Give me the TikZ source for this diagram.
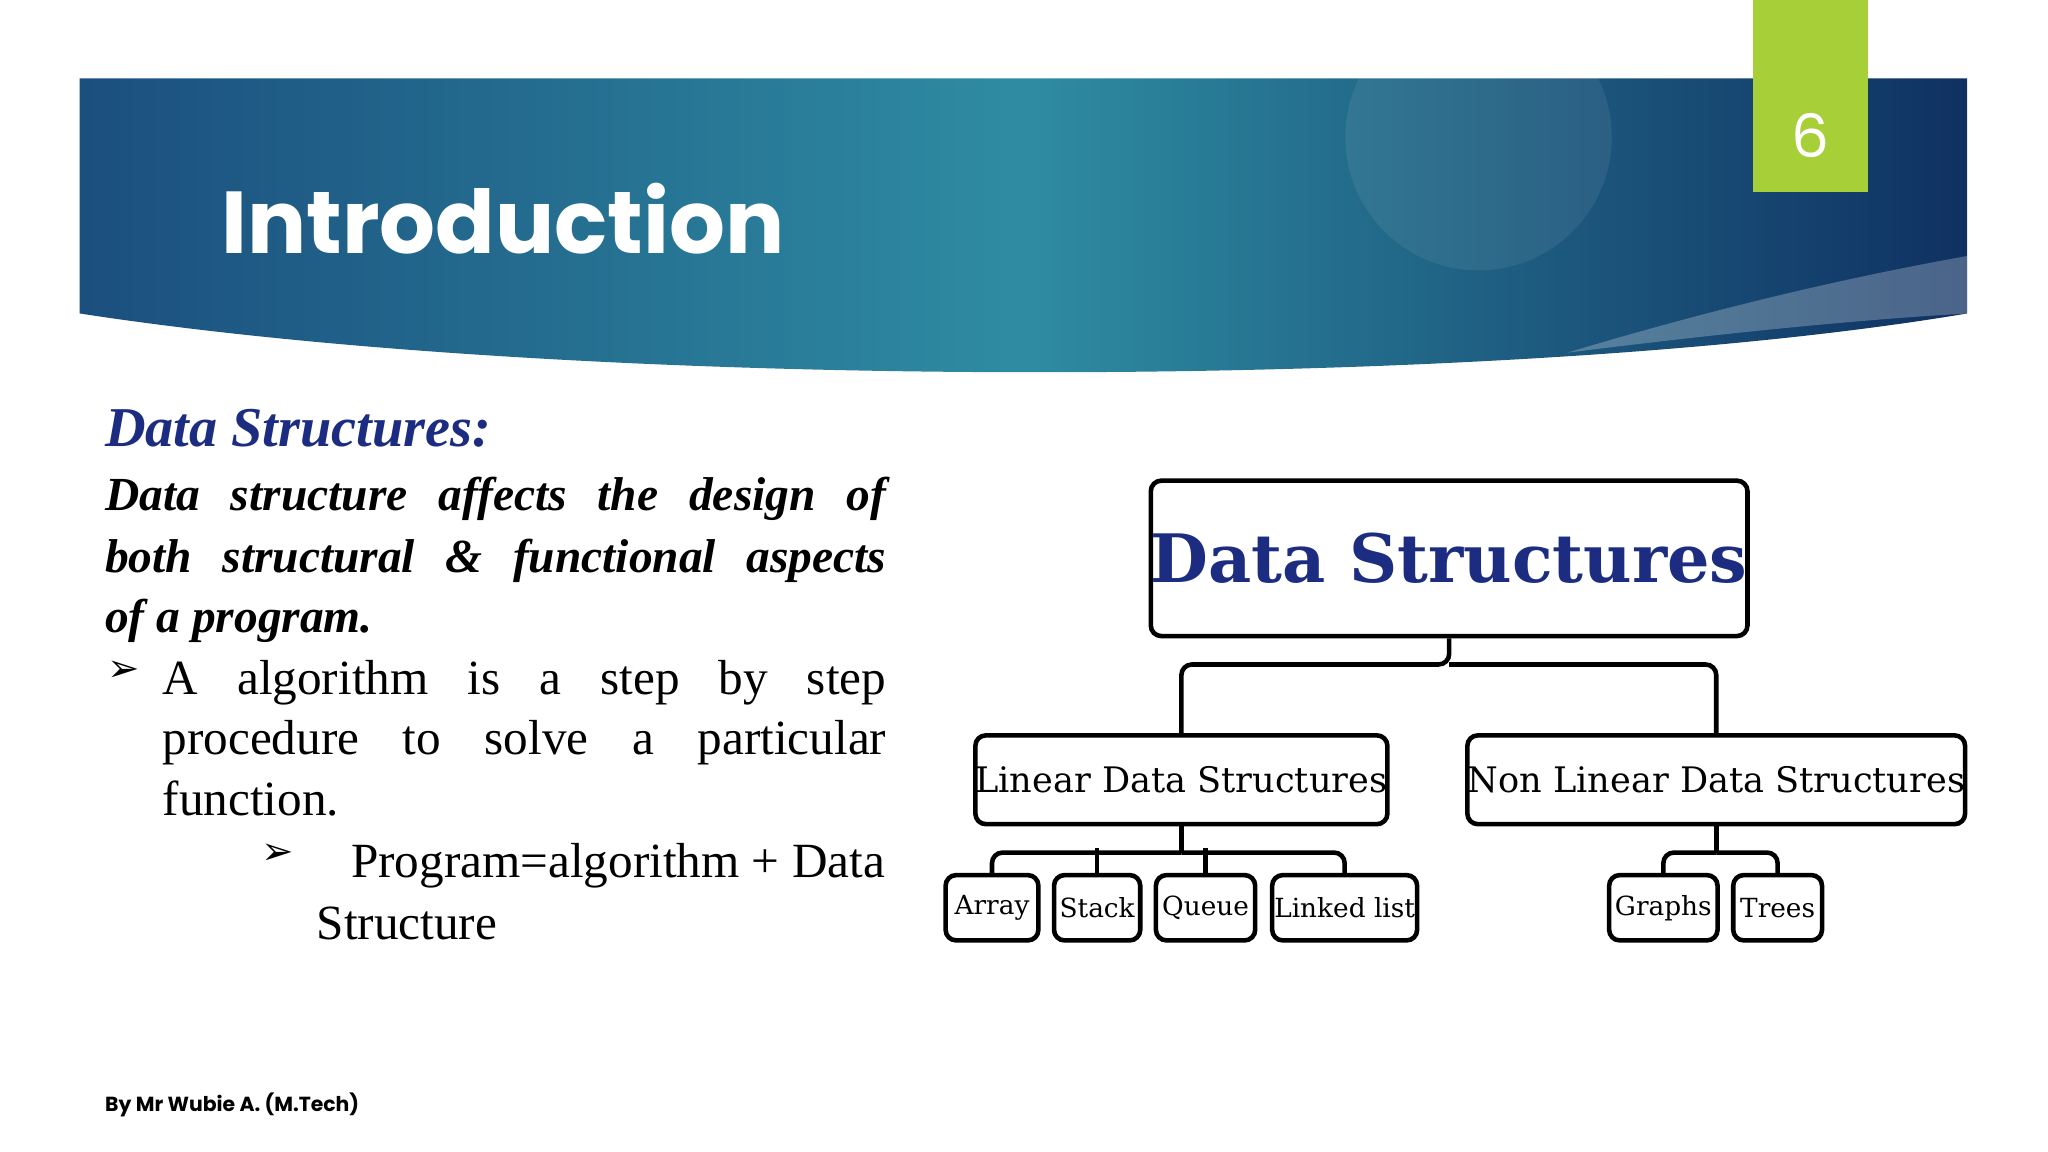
\documentclass[tikz,border=0pt]{standalone}
\usepackage{fontspec}
\setmainfont{Liberation Serif}
\newfontfamily\titlefont{Poppins}
\newfontfamily\dsfont{DejaVu Serif}
\usetikzlibrary{shadings}
\newlength\uu \setlength\uu{0.01306cm}
\definecolor{hdark}{HTML}{1B4F7E}
\definecolor{hmid}{HTML}{2E8CA2}
\definecolor{hright}{HTML}{0F3162}
\definecolor{lime}{HTML}{A6CF38}
\definecolor{dsblue}{HTML}{1C2C80}
\begin{document}
\begin{tikzpicture}[x=0.01306cm,y=-0.01306cm,
  box/.style={draw=black,line width=1.3pt,rounded corners=3pt,fill=white,inner sep=0pt},
  leaf/.style={box,minimum height={50*0.01306cm},font=\dsfont\fontsize{7.5}{9}\selectfont},
  mid/.style={box,minimum height={68*0.01306cm},font=\dsfont\fontsize{10}{12}\selectfont},
  con/.style={draw=black,line width=1.3pt}]
\useasboundingbox (0,0) rectangle (1568,882);
\fill[white] (0,0) rectangle (1568,882);
% header
\shade[left color=hdark,right color=hright,middle color=hmid]
  (61,60) -- (1506,60) -- (1506,240) .. controls (1150,300) and (450,300) .. (61,240) -- cycle;
\fill[white,opacity=0.07] (1132,105) circle (102);
\fill[white,opacity=0.25] (1506,196) .. controls (1400,215) and (1300,240) .. (1200,270) .. controls (1320,255) and (1420,245) .. (1506,240) -- cycle;
\node[anchor=base west,text=white,font=\titlefont\bfseries\fontsize{25}{30}\selectfont] (title) at (160,194) {Introduction};
\fill[lime] (1342,0) rectangle (1430,147);
\node[text=white,font=\titlefont\fontsize{17}{20}\selectfont] (pg) at (1386,104) {6};
% text
\node[anchor=base west,inner sep=0,text=dsblue,font=\bfseries\itshape\fontsize{16}{19}\selectfont] (h) at (80,342) {Data Structures:};
\node[anchor=base west,inner sep=0,font=\bfseries\itshape\fontsize{13.5}{16}\selectfont] (p1) at (80,391) {\makebox[598\uu][s]{Data structure affects the design of}};
\node[anchor=base west,inner sep=0,font=\bfseries\itshape\fontsize{13.5}{16}\selectfont] (p2) at (80,438) {\makebox[598\uu][s]{both structural \& functional aspects}};
\node[anchor=base west,inner sep=0,font=\bfseries\itshape\fontsize{13.5}{16}\selectfont] (p3) at (80,484) {of a program.};
\node[anchor=base west,inner sep=0,font=\fontsize{14}{16}\selectfont] (b1) at (82,522) {\fontspec{DejaVu Sans}\fontsize{11}{13}\selectfont ➢};
\node[anchor=base west,inner sep=0,font=\fontsize{14}{16}\selectfont] (l1) at (124,532) {\makebox[554\uu][s]{A algorithm is a step by step}};
\node[anchor=base west,inner sep=0,font=\fontsize{14}{16}\selectfont] (l2) at (124,578) {\makebox[554\uu][s]{procedure to solve a particular}};
\node[anchor=base west,inner sep=0,font=\fontsize{14}{16}\selectfont] (l3) at (124,624) {function.};
\node[anchor=base west,inner sep=0] (b2) at (200,662) {\fontspec{DejaVu Sans}\fontsize{11}{13}\selectfont ➢};
\node[anchor=base east,inner sep=0,font=\fontsize{14}{16}\selectfont] (l4) at (678,672) {Program=algorithm + Data};
\node[anchor=base west,inner sep=0,font=\fontsize{14}{16}\selectfont] (l5) at (242,719) {Structure};
\node[anchor=base west,inner sep=0,font=\titlefont\bfseries\fontsize{5.8}{7}\selectfont] (ft) at (80,851) {By Mr Wubie A. (M.Tech)};
% diagram
\node[box,minimum width={455*0.01306cm},minimum height={119*0.01306cm},text=dsblue,font=\dsfont\bfseries\fontsize{19}{22}\selectfont] (ds) at (1109.5,427.5) {Data Structures};
\node[mid,minimum width={305*0.01306cm}] (lin) at (904.5,597) {Linear Data Structures};
\node[mid,minimum width={358*0.01306cm}] (nlin) at (1314,597) {Non Linear Data Structures};
\node[leaf,minimum width={71*0.01306cm}] (arr) at (759.5,695) {Array};
\node[leaf,minimum width={66*0.01306cm}] (stk) at (840,695) {Stack};
\node[leaf,minimum width={76*0.01306cm}] (que) at (923,695) {Queue};
\node[leaf,minimum width={111*0.01306cm}] (ll) at (1029.5,695) {Linked list};
\node[leaf,minimum width={83*0.01306cm}] (gr) at (1273.5,695) {Graphs};
\node[leaf,minimum width={68*0.01306cm}] (tr) at (1361,695) {Trees};
\draw[con,rounded corners=3pt] (ds.south) -- ++(0,20) -| (lin.north);
\draw[con,rounded corners=3pt] (ds.south) ++(0,20) -| (nlin.north);
\draw[con] (lin.south) -- ++(0,20);
\draw[con,rounded corners=3pt] (lin.south) ++(0,20) -| (arr.north);
\draw[con,rounded corners=3pt] (lin.south) ++(0,20) -| (ll.north);
\draw[con] (stk.north) -- ++(0,-19);
\draw[con] (que.north) -- ++(0,-19);
\draw[con] (nlin.south) -- ++(0,20);
\draw[con,rounded corners=3pt] (nlin.south) ++(0,20) -| (gr.north);
\draw[con,rounded corners=3pt] (nlin.south) ++(0,20) -| (tr.north);
\end{tikzpicture}
\end{document}
